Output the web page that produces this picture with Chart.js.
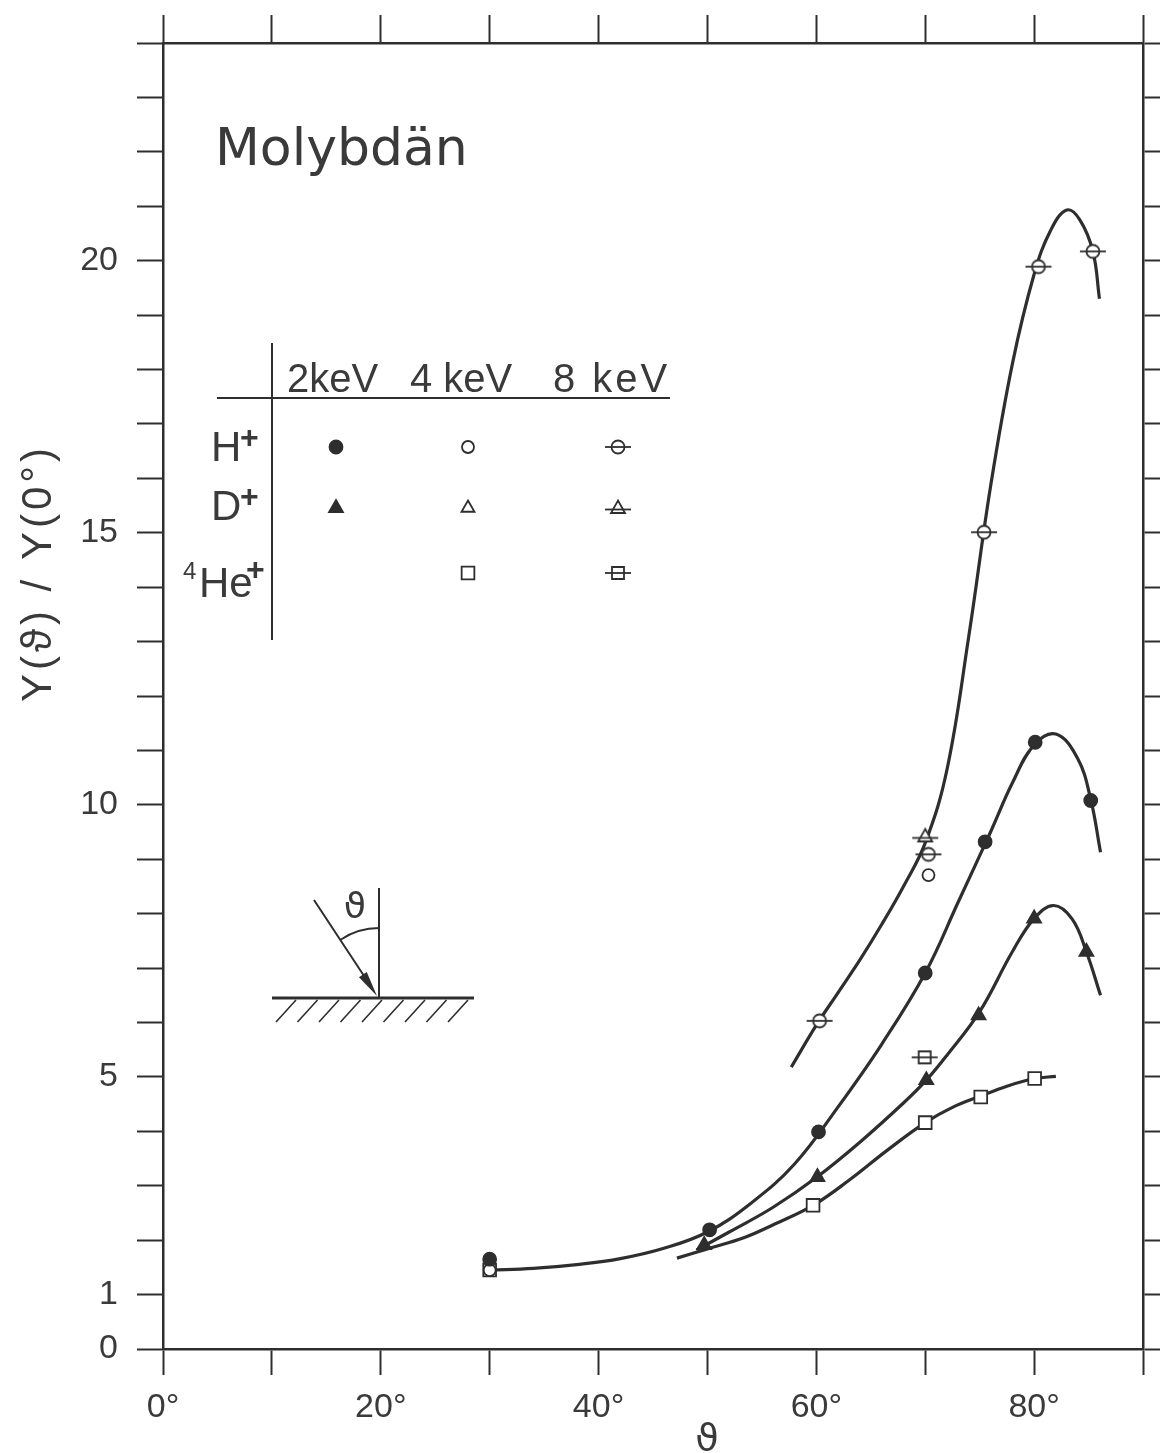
<!DOCTYPE html>
<html>
<head>
<meta charset="utf-8">
<title>Molybdän – Y(ϑ) / Y(0°)</title>
<script src="https://cdn.jsdelivr.net/npm/chart.js@4/dist/chart.umd.min.js"></script>
<style>
  html, body { margin: 0; padding: 0; background: #fff; }
  #wrap { width: 1160px; height: 1453px; }
</style>
</head>
<body>
<div id="wrap"><canvas id="sputter" width="1160" height="1453"></canvas></div>
<script>
'use strict';

// measured yields, angle of incidence in degrees, Y(theta)/Y(0)
const thetaH2 = [30, 50.2, 60.2, 70.0, 75.5, 80.1, 85.2];
const yieldH2 = [1.65, 2.19, 3.99, 6.91, 9.32, 11.15, 10.08];
const thetaH4 = [30, 70.3];
const yieldH4 = [1.45, 8.71];
const thetaH8 = [60.3, 70.3, 75.4, 80.4, 85.4];
const yieldH8 = [6.03, 9.09, 15.01, 19.89, 20.17];
const thetaD2 = [49.7, 60.1, 70.1, 74.9, 80.0, 84.8];
const yieldD2 = [1.91, 3.16, 4.94, 6.13, 7.91, 7.30];
const thetaD8 = [70.0];
const yieldD8 = [9.42];
const thetaHe4 = [30, 59.7, 70.0, 75.1, 80.05];
const yieldHe4 = [1.45, 2.64, 4.16, 4.63, 4.97];
const thetaHe8 = [69.95];
const yieldHe8 = [5.36];

// hand drawn fit curves through the measurements
const fitTopTheta = [57.7, 60, 62, 64, 66, 68, 70, 72, 74, 76, 78, 80, 81.5, 83, 84.2, 85.4, 86.0];
const fitTopY = [5.18, 5.95, 6.55, 7.15, 7.8, 8.5, 9.3, 10.65, 13.1, 15.85, 18.1, 19.75, 20.55, 20.93, 20.75, 20.17, 19.3];
const fitH2Theta = [30, 34, 38, 42, 46, 50, 54, 58, 62, 66, 70, 73, 76, 78, 80, 82, 84, 85.2, 86.1];
const fitH2Y = [1.45, 1.48, 1.55, 1.66, 1.85, 2.15, 2.68, 3.4, 4.45, 5.6, 6.91, 8.2, 9.5, 10.4, 11.1, 11.3, 10.85, 10.1, 9.13];
const fitD2Theta = [49, 52, 56, 60, 64, 68, 70.1, 72, 75, 78, 80, 81.8, 83.5, 84.8, 86.1];
const fitD2Y = [1.82, 2.15, 2.6, 3.15, 3.8, 4.52, 4.94, 5.4, 6.2, 7.3, 7.91, 8.15, 7.9, 7.3, 6.5];
const fitHe4Theta = [47.2, 50, 53.4, 56, 59.7, 63, 66.5, 70, 72.5, 75.1, 77.5, 80.05, 82];
const fitHe4Y = [1.67, 1.84, 2.05, 2.28, 2.64, 3.1, 3.65, 4.16, 4.44, 4.65, 4.83, 4.97, 5.01];

const xLabelled = [0, 20, 40, 60, 80];
const yLabelled = [0, 1, 5, 10, 15, 20];
const energies = ['2keV', '4 keV', '8 keV'];
const ions = ['H', 'D', 'He'];

const INK = '#2e2e2e';
const TEXT = '#3a3a3a';

function pts(xs, ys) {
  return xs.map((x, i) => ({ x: x, y: ys[i] }));
}

// open symbol crossed by a short horizontal bar (8 keV data)
function barredSymbol(shape) {
  let c = document.createElement('canvas');
  c.width = 28;
  c.height = 22;
  let g = c.getContext('2d');
  g.strokeStyle = INK;
  g.fillStyle = '#fff';
  g.lineWidth = 1.8;
  g.beginPath();
  if (shape === 'circle') {
    g.arc(14, 11, 6.5, 0, Math.PI * 2);
  } else if (shape === 'triangle') {
    g.moveTo(14, 3.5);
    g.lineTo(21, 16);
    g.lineTo(7, 16);
    g.closePath();
  } else {
    g.rect(8, 5, 12, 12);
  }
  g.fill();
  g.stroke();
  g.beginPath();
  let by = shape === 'triangle' ? 12.5 : 11;
  g.moveTo(1, by);
  g.lineTo(27, by);
  g.stroke();
  return c;
}

const barCircle = barredSymbol('circle');
const barTriangle = barredSymbol('triangle');
const barSquare = barredSymbol('rect');

// symbol per ion (row) and energy (column); null where nothing was measured
const symbols = [
  [{ pointStyle: 'circle', radius: 6.5, fill: INK }, { pointStyle: 'circle', radius: 6, fill: '#fff' }, { pointStyle: barCircle, radius: 10, fill: '#fff' }],
  [{ pointStyle: 'triangle', radius: 8, fill: INK }, { pointStyle: 'triangle', radius: 7.5, fill: '#fff' }, { pointStyle: barTriangle, radius: 10, fill: '#fff' }],
  [null, { pointStyle: 'rect', radius: 9, fill: '#fff' }, { pointStyle: barSquare, radius: 10, fill: '#fff' }]
];

function markerSet(label, xs, ys, sym) {
  return {
    label: label,
    data: pts(xs, ys),
    showLine: false,
    pointStyle: sym.pointStyle,
    pointRadius: sym.radius,
    pointHoverRadius: sym.radius,
    pointBackgroundColor: sym.fill,
    pointBorderColor: INK,
    pointBorderWidth: 1.8,
    order: 1
  };
}

function fitCurve(label, xs, ys) {
  return {
    label: label,
    data: pts(xs, ys),
    showLine: true,
    borderColor: INK,
    borderWidth: 3.2,
    pointRadius: 0,
    tension: 0.4,
    fill: false,
    order: 2
  };
}

const datasets = [
  fitCurve('fit H 8 keV', fitTopTheta, fitTopY),
  fitCurve('fit H 2 keV', fitH2Theta, fitH2Y),
  fitCurve('fit D 2 keV', fitD2Theta, fitD2Y),
  fitCurve('fit He 4 keV', fitHe4Theta, fitHe4Y),
  markerSet('H⁺ 2keV', thetaH2, yieldH2, symbols[0][0]),
  markerSet('H⁺ 4 keV', thetaH4, yieldH4, symbols[0][1]),
  markerSet('H⁺ 8 keV', thetaH8, yieldH8, symbols[0][2]),
  markerSet('D⁺ 2keV', thetaD2, yieldD2, symbols[1][0]),
  markerSet('D⁺ 8 keV', thetaD8, yieldD8, symbols[1][2]),
  markerSet('⁴He⁺ 4 keV', thetaHe4, yieldHe4, symbols[2][1]),
  markerSet('⁴He⁺ 8 keV', thetaHe8, yieldHe8, symbols[2][2])
];

// frame with outward ticks on all four sides
function frameScale(extra) {
  return Object.assign({
    type: 'linear',
    border: { display: true, color: INK, width: 2.5 },
    grid: { drawOnChartArea: false, drawTicks: true, tickLength: 26, tickWidth: 2, tickColor: INK }
  }, extra);
}

// title, legend table and the incidence sketch
const figureNotes = {
  id: 'figureNotes',
  afterDraw(chart) {
    const ctx = chart.ctx;
    ctx.save();
    ctx.fillStyle = TEXT;
    ctx.strokeStyle = INK;
    ctx.textBaseline = 'alphabetic';

    ctx.font = '52px "DejaVu Sans"';
    ctx.textAlign = 'left';
    ctx.fillText('Molybdän', 215, 165);

    // axis titles
    ctx.font = '38px "DejaVu Sans"';
    ctx.textAlign = 'center';
    ctx.fillText('ϑ', 707, 1450);

    ctx.save();
    ctx.translate(51, 573);
    ctx.rotate(-Math.PI / 2);
    ctx.font = '42px "Liberation Sans"';
    ctx.letterSpacing = '4px';
    ctx.fillText('Y(ϑ) / Y(0°)', 0, 0);
    ctx.restore();

    // legend table
    ctx.lineWidth = 2;
    ctx.beginPath();
    ctx.moveTo(272, 343);
    ctx.lineTo(272, 640);
    ctx.moveTo(217, 398);
    ctx.lineTo(670, 398);
    ctx.stroke();

    ctx.font = '40px "Liberation Sans"';
    ctx.textAlign = 'left';
    const colLeft = [287, 410, 553];
    energies.forEach((e, i) => {
      ctx.letterSpacing = i === 2 ? '3px' : '0px';
      ctx.fillText(e, colLeft[i], 392);
    });
    ctx.letterSpacing = '0px';

    const rowBase = [461, 520, 597];
    const rowCentre = [447, 508, 573];
    const colCentre = [336, 468, 618];
    ctx.font = '42px "Liberation Sans"';
    ctx.fillText(ions[0], 211, rowBase[0]);
    ctx.fillText(ions[1], 211, rowBase[1]);
    ctx.fillText(ions[2], 199, rowBase[2]);
    ctx.font = 'bold 32px "Liberation Sans"';
    ctx.fillText('+', 240, rowBase[0] - 13);
    ctx.fillText('+', 240, rowBase[1] - 13);
    ctx.fillText('+', 246, rowBase[2] - 17);
    ctx.font = '24px "Liberation Sans"';
    ctx.fillText('4', 183, rowBase[2] - 18);

    symbols.forEach((row, r) => {
      row.forEach((sym, c) => {
        if (!sym) return;
        ctx.fillStyle = sym.fill;
        ctx.strokeStyle = INK;
        ctx.lineWidth = 1.8;
        Chart.helpers.drawPoint(ctx, { pointStyle: sym.pointStyle, radius: sym.radius, borderWidth: 1.8, rotation: 0 }, colCentre[c], rowCentre[r]);
      });
    });

    // incidence sketch: surface, normal, incoming beam and angle
    ctx.strokeStyle = INK;
    ctx.fillStyle = INK;
    ctx.lineWidth = 3;
    ctx.beginPath();
    ctx.moveTo(272, 998);
    ctx.lineTo(474, 998);
    ctx.stroke();
    ctx.lineWidth = 1.6;
    ctx.beginPath();
    for (let hx = 276; hx <= 452; hx += 21.5) {
      ctx.moveTo(hx, 1022);
      ctx.lineTo(hx + 20, 1000);
    }
    ctx.stroke();
    ctx.lineWidth = 2;
    ctx.beginPath();
    ctx.moveTo(379, 888);
    ctx.lineTo(379, 997);
    ctx.moveTo(314, 900);
    ctx.lineTo(370, 985);
    ctx.stroke();
    // arrow head
    const ang = Math.atan2(995 - 900, 377 - 314);
    ctx.beginPath();
    ctx.moveTo(377, 996);
    ctx.lineTo(377 - 26 * Math.cos(ang - 0.18), 996 - 26 * Math.sin(ang - 0.18));
    ctx.lineTo(377 - 26 * Math.cos(ang + 0.18), 996 - 26 * Math.sin(ang + 0.18));
    ctx.closePath();
    ctx.fill();
    // angle arc
    ctx.lineWidth = 1.8;
    ctx.beginPath();
    ctx.arc(379, 997, 69, Math.atan2(900 - 997, 314 - 379), -Math.PI / 2);
    ctx.stroke();
    ctx.fillStyle = TEXT;
    ctx.font = '36px "DejaVu Sans"';
    ctx.textAlign = 'center';
    ctx.fillText('ϑ', 355, 918);

    ctx.restore();
  }
};

const ctx = document.getElementById('sputter');
const sputterChart = new Chart(ctx, {
  type: 'scatter',
  data: { datasets: datasets },
  options: {
    responsive: false,
    animation: false,
    events: [],
    layout: { padding: 0 },
    plugins: {
      legend: { display: false },
      tooltip: { enabled: false },
      title: { display: false }
    },
    scales: {
      x: frameScale({
        position: 'bottom',
        min: 0,
        max: 90,
        ticks: {
          stepSize: 10,
          autoSkip: false,
          maxRotation: 0,
          padding: 12,
          color: TEXT,
          font: { family: 'Liberation Sans', size: 34 },
          callback: v => xLabelled.includes(v) ? v + '°' : ''
        },
        afterFit: s => { s.height = 104; }
      }),
      xTop: frameScale({
        position: 'top',
        min: 0,
        max: 90,
        ticks: { stepSize: 10, autoSkip: false, display: false },
        grid: { drawOnChartArea: false, drawTicks: true, tickLength: 28, tickWidth: 2, tickColor: INK },
        afterFit: s => { s.height = 43; }
      }),
      y: frameScale({
        position: 'left',
        min: 0,
        max: 24,
        ticks: {
          stepSize: 1,
          autoSkip: false,
          padding: 19,
          color: TEXT,
          font: { family: 'Liberation Sans', size: 34 },
          callback: v => yLabelled.includes(v) ? String(v) : ''
        },
        afterFit: s => { s.width = 163; }
      }),
      yRight: frameScale({
        position: 'right',
        min: 0,
        max: 24,
        ticks: { stepSize: 1, autoSkip: false, display: false },
        afterFit: s => { s.width = 17; }
      })
    }
  },
  plugins: [figureNotes]
});
</script>
</body>
</html>
